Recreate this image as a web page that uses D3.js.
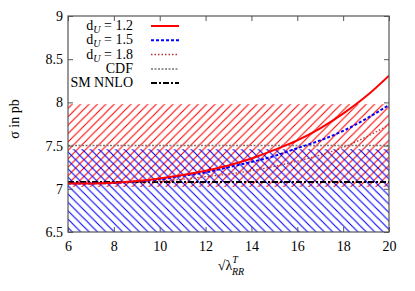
<!DOCTYPE html>
<html><head><meta charset="utf-8">
<script src="https://cdn.jsdelivr.net/npm/d3@7"></script>
<style>body{margin:0;background:#fff;}</style></head>
<body><svg id="c" width="415" height="291" font-family="Liberation Serif"></svg>
<script>
const xs = [6,7,8,9,10,11,12,13,14,15,16,17,18,19,20];
const d12 = [7.06,7.062,7.07,7.09,7.12,7.16,7.21,7.27,7.35,7.45,7.56,7.70,7.87,8.07,8.31];
const d15 = [7.06,7.062,7.068,7.085,7.11,7.15,7.19,7.25,7.31,7.38,7.47,7.56,7.67,7.81,7.97];
const d18 = [7.06,7.06,7.065,7.075,7.09,7.11,7.14,7.17,7.21,7.26,7.32,7.39,7.48,7.60,7.74];
const cdf = 7.5, smnnlo = 7.08;
const redBand = [7.02, 7.98];
const blueBand = [6.3, 7.46];
const xTicks = [6,8,10,12,14,16,18,20];
const yTicks = [6.5,7,7.5,8,8.5,9];

const FF = "Liberation Serif";
const svg = d3.select("#c");
const L=68, R=389, T=16, B=232;
const x = d3.scaleLinear().domain([6,20]).range([L,R]);
const y = d3.scaleLinear().domain([6.5,9]).range([B,T]);

const defs = svg.append("defs");
const P = 8.4;
const pr = defs.append("pattern").attr("id","hr").attr("patternUnits","userSpaceOnUse")
  .attr("width",P).attr("height",P);
pr.append("path").attr("d",`M-2,2L2,-2M0,${P}L${P},0M${P-2},${P+2}L${P+2},${P-2}`).attr("stroke","#ff0000").attr("stroke-width",1.1);
const pb = defs.append("pattern").attr("id","hb").attr("patternUnits","userSpaceOnUse")
  .attr("width",P).attr("height",P);
pb.append("path").attr("d",`M-2,${P-2}L2,${P+2}M0,0L${P},${P}M${P-2},-2L${P+2},2`).attr("stroke","#0000ff").attr("stroke-width",1.1);
defs.append("clipPath").attr("id","clip").append("rect").attr("x",L).attr("y",T).attr("width",R-L).attr("height",B-T);

const g = svg.append("g").attr("clip-path","url(#clip)");
g.append("rect").attr("x",L).attr("width",R-L)
  .attr("y",y(redBand[1])).attr("height",y(redBand[0])-y(redBand[1])).attr("fill","url(#hr)");
g.append("rect").attr("x",L).attr("width",R-L)
  .attr("y",y(blueBand[1])).attr("height",y(blueBand[0])-y(blueBand[1])).attr("fill","url(#hb)");

const styles = [
  {name:"1.2", data:d12, color:"#ff0000", w:2, dash:null},
  {name:"1.5", data:d15, color:"#0000ff", w:2, dash:"3,2"},
  {name:"1.8", data:d18, color:"#c03030", w:1.3, dash:"1.5,2"}
];
const line = d3.line().x((d,i)=>x(xs[i])).y(d=>y(d)).curve(d3.curveMonotoneX);

g.append("line").attr("x1",L).attr("x2",R).attr("y1",y(cdf)).attr("y2",y(cdf))
  .attr("stroke","#777").attr("stroke-width",1.5).attr("stroke-dasharray","2,1.5");
g.append("line").attr("x1",L).attr("x2",R).attr("y1",y(smnnlo)).attr("y2",y(smnnlo))
  .attr("stroke","#000").attr("stroke-width",2).attr("stroke-dasharray","6,2,2,2");
styles.slice().reverse().forEach(s=>{
  g.append("path").attr("d",line(s.data)).attr("fill","none").attr("stroke",s.color)
   .attr("stroke-width",s.w).attr("stroke-dasharray",s.dash);
});

// axes
const fs = 14;
const ax = svg.append("g").attr("transform",`translate(0,${B})`)
  .call(d3.axisBottom(x).tickValues(xTicks).tickFormat(d3.format("d")).tickSize(-5).tickPadding(9));
const ay = svg.append("g").attr("transform",`translate(${L},0)`)
  .call(d3.axisLeft(y).tickValues(yTicks).tickFormat(d=>String(d)).tickSize(-5).tickPadding(5));
const at = svg.append("g").attr("transform",`translate(0,${T})`)
  .call(d3.axisTop(x).tickValues(xTicks).tickFormat("").tickSize(-5));
const ar = svg.append("g").attr("transform",`translate(${R},0)`)
  .call(d3.axisRight(y).tickValues(yTicks).tickFormat("").tickSize(-5));
[ax,ay,at,ar].forEach(a=>{
  a.attr("font-family",FF).attr("font-size",fs);
  a.select(".domain").remove();
  a.selectAll("line").attr("stroke","#555");
  a.selectAll("text").attr("fill","#000").attr("font-family",FF);
});
svg.append("rect").attr("x",L).attr("y",T).attr("width",R-L).attr("height",B-T)
  .attr("fill","none").attr("stroke","#555").attr("stroke-width",1.2);

// legend
const lg = svg.append("g").attr("font-family",FF);
const rows = [30,44.3,58.5,73,87];
const tx = 133, lx1 = 151, lx2 = 179;
styles.forEach((s,i)=>{
  const t = lg.append("text").attr("x",tx).attr("y",rows[i]).attr("text-anchor","end").attr("font-size",14).attr("font-family",FF);
  t.append("tspan").text("d");
  t.append("tspan").attr("font-style","italic").attr("font-size",10).attr("dy",3).text("U");
  t.append("tspan").attr("dy",-3).text(" = " + s.name);
  lg.append("line").attr("x1",lx1).attr("x2",lx2).attr("y1",rows[i]-4).attr("y2",rows[i]-4)
    .attr("stroke",s.color).attr("stroke-width",s.w).attr("stroke-dasharray",s.dash);
});
lg.append("text").attr("x",tx).attr("y",rows[3]).attr("text-anchor","end").attr("font-size",14).attr("font-family",FF).text("CDF");
lg.append("line").attr("x1",lx1).attr("x2",lx2).attr("y1",rows[3]-4).attr("y2",rows[3]-4)
  .attr("stroke","#777").attr("stroke-width",1.5).attr("stroke-dasharray","2,1.5");
lg.append("text").attr("x",tx).attr("y",rows[4]).attr("text-anchor","end").attr("font-size",14).attr("font-family",FF).text("SM NNLO");
lg.append("line").attr("x1",lx1).attr("x2",lx2).attr("y1",rows[4]-4).attr("y2",rows[4]-4)
  .attr("stroke","#000").attr("stroke-width",2).attr("stroke-dasharray","6,2,2,2");

// axis titles
const xt = svg.append("text").attr("x",231).attr("y",270).attr("text-anchor","middle").attr("font-size",14).attr("font-family",FF);
xt.append("tspan").text("\u221A\u03BB");
xt.append("tspan").attr("font-style","italic").attr("font-size",10).attr("dy",-7).text("T");
xt.append("tspan").attr("font-style","italic").attr("font-size",10).attr("dy",12).attr("dx",-6).text("RR");
svg.append("text").attr("transform","translate(19,119) rotate(-90)").attr("text-anchor","middle")
  .attr("font-size",14).attr("font-family",FF).text("\u03C3 in pb");
</script></body></html>
